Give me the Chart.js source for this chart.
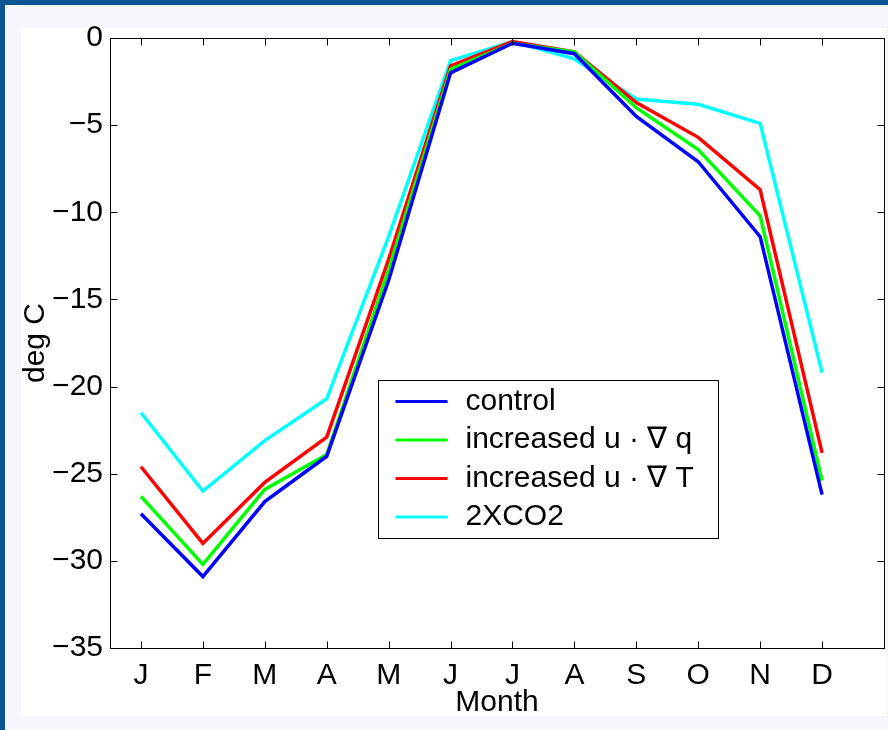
<!DOCTYPE html>
<html>
<head>
<meta charset="utf-8">
<script src="https://cdn.jsdelivr.net/npm/chart.js@4.4.1/dist/chart.umd.min.js"></script>
<style>
  html, body { margin: 0; padding: 0; }
  body { width: 888px; height: 730px; background: #0b5592; position: relative; overflow: hidden; }
  #frame { position: absolute; left: 5px; top: 5px; width: 883px; height: 725px; background: #f6f7fd; }
  #box { position: absolute; left: 21px; top: 28px; width: 865px; height: 688px; background: #ffffff; }
  #chart1 { position: absolute; left: 21px; top: 5px; }
</style>
</head>
<body>
<div id="frame"></div>
<div id="box"></div>
<canvas id="chart1" width="865" height="711"></canvas>
<script>
// month labels along the bottom axis
const months = ['J','F','M','A','M','J','J','A','S','O','N','D'];

// monthly temperatures, deg C
const control  = [-27.3, -30.9, -26.6, -24.0, -13.9, -2.0, -0.3, -0.9, -4.5, -7.1, -11.4, -26.2];
const incrQ    = [-26.3, -30.2, -25.9, -23.9, -13.3, -1.8, -0.3, -0.8, -4.0, -6.4, -10.2, -25.4];
const incrT    = [-24.6, -29.0, -25.5, -22.9, -12.7, -1.6, -0.2, -0.8, -3.7, -5.7,  -8.7, -23.8];
const co2x2    = [-21.5, -26.0, -23.1, -20.7, -11.4, -1.3, -0.2, -1.2, -3.5, -3.8,  -4.9, -19.2];

const seriesNames  = ['control', 'increased u \u00b7 \u2207 q', 'increased u \u00b7 \u2207 T', '2XCO2'];
const seriesColors = ['#0000ff', '#00ff00', '#ff0000', '#00ffff'];
const yTicks = [0, -5, -10, -15, -20, -25, -30, -35];

const FONT = '"Liberation Sans", Arial, Helvetica, sans-serif';
const FSIZE = 30;

function toPoints(arr) {
    return arr.map((v, i) => ({ x: i + 1, y: v }));
}

// matlab style box with inward ticks + legend inside the axes
const boxPlugin = {
    id: 'boxPlugin',
    afterDraw(chart) {
        const ctx = chart.ctx;
        const a = chart.chartArea;
        const xs = chart.scales.x, ys = chart.scales.y;
        const L = Math.round(a.left) + 0.5, R = Math.round(a.right) + 0.5;
        const T = Math.round(a.top) + 0.5, B = Math.round(a.bottom) + 0.5;
        ctx.save();
        ctx.strokeStyle = '#000';
        ctx.lineWidth = 1;
        ctx.strokeRect(L, T, R - L, B - T);
        const tl = 7;
        ctx.beginPath();
        for (let i = 0; i < months.length; i++) {
            const px = Math.round(xs.getPixelForValue(i + 1)) + 0.5;
            ctx.moveTo(px, B); ctx.lineTo(px, B - tl);
            ctx.moveTo(px, T); ctx.lineTo(px, T + tl);
        }
        yTicks.forEach(v => {
            const py = Math.round(ys.getPixelForValue(v)) + 0.5;
            ctx.moveTo(L, py); ctx.lineTo(L + tl, py);
            ctx.moveTo(R, py); ctx.lineTo(R - tl, py);
        });
        ctx.stroke();

        // legend
        const lx = Math.round(a.left + 268) + 0.5, ly = Math.round(a.top + 342) + 0.5;
        const lw = 340, lh = 158;
        ctx.fillStyle = '#fff';
        ctx.fillRect(lx, ly, lw, lh);
        ctx.strokeRect(lx, ly, lw, lh);
        ctx.font = FSIZE + 'px ' + FONT;
        ctx.textBaseline = 'middle';
        ctx.textAlign = 'left';
        chart.data.datasets.forEach((ds, i) => {
            const ry = ly + 21 + i * 38.5;
            ctx.strokeStyle = ds.borderColor;
            ctx.lineWidth = 3;
            ctx.beginPath();
            ctx.moveTo(lx + 17, ry); ctx.lineTo(lx + 69, ry);
            ctx.stroke();
            ctx.fillStyle = '#000';
            ctx.fillText(ds.label, lx + 87, ry);
        });
        ctx.restore();
    }
};

const ctx = document.getElementById('chart1').getContext('2d');
const chart = new Chart(ctx, {
    type: 'line',
    data: {
        datasets: [control, incrQ, incrT, co2x2].map((arr, i) => ({
            label: seriesNames[i],
            data: toPoints(arr),
            borderColor: seriesColors[i],
            backgroundColor: seriesColors[i],
            borderWidth: 3.5,
            pointRadius: 0,
            tension: 0,
            fill: false
        }))
    },
    options: {
        responsive: false,
        animation: false,
        layout: { padding: { top: 33, right: 2, left: 0, bottom: 0 } },
        plugins: {
            legend: { display: false },
            tooltip: { enabled: false }
        },
        scales: {
            x: {
                type: 'linear',
                min: 0.5,
                max: 13,
                grid: { display: false, drawTicks: false },
                border: { display: false },
                afterBuildTicks: s => { s.ticks = months.map((m, i) => ({ value: i + 1 })); },
                afterFit: s => { s.height = 68; s.paddingLeft = 0; s.paddingRight = 0; },
                ticks: {
                    color: '#000',
                    padding: 10,
                    maxRotation: 0,
                    autoSkip: false,
                    font: { family: FONT, size: FSIZE },
                    callback: v => months[v - 1]
                },
                title: {
                    display: true,
                    text: 'Month',
                    color: '#000',
                    padding: { top: 0, bottom: 0 },
                    font: { family: FONT, size: FSIZE, lineHeight: 0.9 }
                }
            },
            y: {
                min: -35,
                max: 0,
                grid: { display: false, drawTicks: false },
                border: { display: false },
                afterBuildTicks: s => { s.ticks = yTicks.map(v => ({ value: v })); },
                afterFit: s => { s.width = 89; s.paddingTop = 0; s.paddingBottom = 0; },
                ticks: {
                    color: '#000',
                    padding: 7,
                    font: { family: FONT, size: FSIZE },
                    callback: v => v < 0 ? '\u2212' + Math.abs(v) : String(v)
                },
                title: {
                    display: true,
                    text: 'deg C',
                    color: '#000',
                    padding: { top: 0, bottom: 0 },
                    font: { family: FONT, size: FSIZE, lineHeight: 1.0 }
                }
            }
        }
    },
    plugins: [boxPlugin]
});
</script>
</body>
</html>
